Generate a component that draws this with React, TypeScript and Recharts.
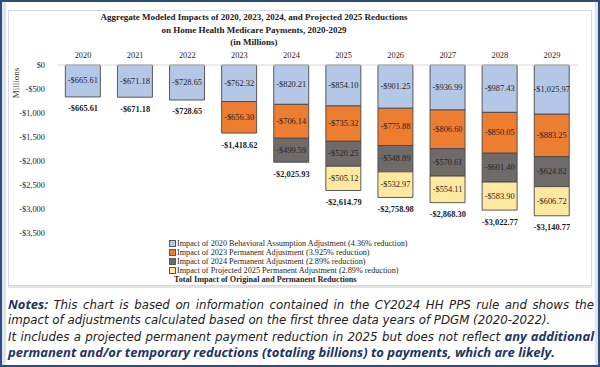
import React from "react";
import {
  ComposedChart,
  Bar,
  Line,
  XAxis,
  YAxis,
  LabelList,
} from "recharts";

const years = ["2020", "2021", "2022", "2023", "2024", "2025", "2026", "2027", "2028", "2029"];
const behavioral2020 = [-665.61, -671.18, -728.65, -762.32, -820.21, -854.1, -901.25, -936.99, -987.43, -1025.97];
const permanent2023 = [null, null, null, -656.3, -706.14, -735.32, -775.88, -806.6, -850.05, -883.25];
const permanent2024 = [null, null, null, null, -499.59, -520.25, -548.89, -570.61, -601.4, -624.82];
const projected2025 = [null, null, null, null, null, -505.12, -532.97, -554.11, -583.9, -606.72];
const totals = [-665.61, -671.18, -728.65, -1418.62, -2025.93, -2614.79, -2758.98, -2868.3, -3022.77, -3140.77];
const yTicks = [0, -500, -1000, -1500, -2000, -2500, -3000, -3500];

const legendItems = [
  { label: "Impact of 2020 Behavioral Assumption Adjustment (4.36% reduction)", fill: "#b4c7e7" },
  { label: "Impact of 2023 Permanent Adjustment (3.925% reduction)", fill: "#ed7d31" },
  { label: "Impact of 2024 Permanent Adjustment (2.89% reduction)", fill: "#6f6b6b" },
  { label: "Impact of Projected 2025 Permanent Adjustment (2.89% reduction)", fill: "#ffe699" },
];

const data = years.map((y, i) => ({
  year: y,
  b2020: behavioral2020[i],
  p2023: permanent2023[i],
  p2024: permanent2024[i],
  p2025: projected2025[i],
  total: totals[i],
}));

const serif = "'Liberation Serif', 'Times New Roman', serif";
const navy = "#1c3565";

const money = (v: number) => {
  const s = Math.abs(v).toLocaleString("en-US", { minimumFractionDigits: 2, maximumFractionDigits: 2 });
  return (v < 0 ? "-$" : "$") + s;
};
const tickMoney = (v: number) => (v === 0 ? "$0" : "-$" + Math.abs(v).toLocaleString("en-US"));

const SegLabel = (props: any) => {
  const { x, y, width, height, value } = props;
  if (value == null) return null;
  return (
    <text
      x={x + width / 2}
      y={y + height / 2}
      textAnchor="middle"
      dominantBaseline="central"
      fontFamily={serif}
      fontSize={8.4}
      fill="#262626"
    >
      {money(value)}
    </text>
  );
};

const TotalLabel = (props: any) => {
  const { x, y, value } = props;
  if (value == null) return null;
  return (
    <text
      x={x}
      y={y + 12}
      textAnchor="middle"
      dominantBaseline="central"
      fontFamily={serif}
      fontSize={8.4}
      fontWeight="bold"
      fill="#1a1a1a"
    >
      {money(value)}
    </text>
  );
};

const barStroke = "#4a4a4a";
const boldNote = { color: navy, fontFamily: "'Open Sans', sans-serif", fontSize: 13 };

export default function App() {
  return (
    <div
      style={{
        position: "absolute",
        left: 0,
        top: 0,
        width: 600,
        height: 367,
        boxSizing: "border-box",
        border: "2px solid #2e4c7e",
        background: "#ffffff",
        overflow: "hidden",
      }}
    >
      <div style={{ position: "absolute", left: 0, top: 0, width: 4, height: 363, background: "#dde4ee" }} />
      <div style={{ position: "absolute", right: 0, top: 0, width: 3, height: 363, background: "#dde4ee" }} />
      <div
        style={{
          position: "absolute",
          left: 6,
          top: 8,
          width: 584,
          height: 276,
          boxSizing: "border-box",
          border: "1px solid #d9d9d9",
          boxShadow: "0 2px 0 #e4e4e4",
          background: "#fff",
        }}
      >
        <div
          style={{
            position: "absolute",
            left: 0,
            top: 0,
            width: 490,
            textAlign: "center",
            fontFamily: serif,
            fontWeight: "bold",
            fontSize: 9,
            lineHeight: "12.5px",
            color: "#1a1a1a",
            whiteSpace: "nowrap",
          }}
        >
          Aggregate Modeled Impacts of 2020, 2023, 2024, and Projected 2025 Reductions
          <br />
          on Home Health Medicare Payments, 2020-2029
          <br />
          (in Millions)
        </div>
        <div
          style={{
            position: "absolute",
            left: 7 - 25,
            top: 72 - 6,
            width: 50,
            height: 12,
            textAlign: "center",
            transform: "rotate(-90deg)",
            fontFamily: serif,
            fontSize: 9,
            lineHeight: "12px",
            color: "#333",
          }}
        >
          Millions
        </div>
        <ComposedChart
          width={584}
          height={276}
          data={data}
          margin={{ top: 40, right: 15, bottom: 54, left: 0 }}
          barCategoryGap="16%"
        >
          <defs>
            <pattern id="hatch" patternUnits="userSpaceOnUse" width="3" height="3" patternTransform="rotate(45)">
              <rect width="3" height="3" fill="#ffe699" />
              <line x1="0" y1="0" x2="0" y2="3" stroke="#fff2c8" strokeWidth="1" />
            </pattern>
          </defs>
          <XAxis
            dataKey="year"
            orientation="top"
            height={14}
            tickLine={false}
            axisLine={{ stroke: "#d9d9d9" }}
            tick={{ fontFamily: serif, fontSize: 8.4, fill: "#262626" }}
            tickMargin={1}
          />
          <YAxis
            domain={[-3500, 0]}
            ticks={yTicks}
            width={48}
            axisLine={false}
            tickLine={false}
            tickFormatter={tickMoney}
            tick={{ fontFamily: serif, fontSize: 8.4, fill: "#262626" }}
            tickMargin={6}
            interval={0}
          />
          <Bar dataKey="b2020" stackId="a" fill="#b4c7e7" stroke={barStroke} strokeWidth={0.9} isAnimationActive={false}>
            <LabelList dataKey="b2020" content={SegLabel} />
          </Bar>
          <Bar dataKey="p2023" stackId="a" fill="#ed7d31" stroke={barStroke} strokeWidth={0.9} isAnimationActive={false}>
            <LabelList dataKey="p2023" content={SegLabel} />
          </Bar>
          <Bar dataKey="p2024" stackId="a" fill="#6f6b6b" stroke={barStroke} strokeWidth={0.9} isAnimationActive={false}>
            <LabelList dataKey="p2024" content={SegLabel} />
          </Bar>
          <Bar dataKey="p2025" stackId="a" fill="url(#hatch)" stroke={barStroke} strokeWidth={0.9} isAnimationActive={false}>
            <LabelList dataKey="p2025" content={SegLabel} />
          </Bar>
          <Line
            dataKey="total"
            stroke="none"
            dot={false}
            activeDot={false}
            legendType="none"
            isAnimationActive={false}
          >
            <LabelList dataKey="total" content={TotalLabel} />
          </Line>
        </ComposedChart>
        <div
          style={{
            position: "absolute",
            left: 160,
            top: 228,
            fontFamily: serif,
            fontSize: 8.2,
            lineHeight: "9px",
            color: "#262626",
            whiteSpace: "nowrap",
          }}
        >
          {legendItems.map((it) => (
            <div key={it.label} style={{ display: "flex", alignItems: "center" }}>
              <span
                style={{
                  display: "inline-block",
                  width: 5,
                  height: 5,
                  background: it.fill,
                  border: "1px solid #595959",
                  marginRight: 1,
                }}
              />
              {it.label}
            </div>
          ))}
          <div style={{ fontWeight: "bold", paddingLeft: 5 }}>Total Impact of Original and Permanent Reductions</div>
        </div>
      </div>
      <div
        style={{
          position: "absolute",
          left: 6,
          top: 295,
          width: 586,
          fontFamily: "'DejaVu Sans', sans-serif",
          fontStyle: "italic",
          fontSize: 11.8,
          lineHeight: "15.3px",
          color: "#222",
          whiteSpace: "nowrap",
        }}
      >
        <div style={{ textAlign: "justify", textAlignLast: "justify" }}>
          <b style={boldNote}>Notes:</b> This chart is based on information contained in the CY2024 HH PPS rule and shows the
        </div>
        <div>impact of adjustments calculated based on the first three data years of PDGM (2020-2022).</div>
        <div style={{ textAlign: "justify", textAlignLast: "justify" }}>
          It includes a projected permanent payment reduction in 2025 but does not reflect{" "}
          <b style={boldNote}>any additional</b>
        </div>
        <div>
          <b style={boldNote}>
            permanent and/or temporary reductions (totaling billions) to payments, which are likely.
          </b>
        </div>
      </div>
    </div>
  );
}
